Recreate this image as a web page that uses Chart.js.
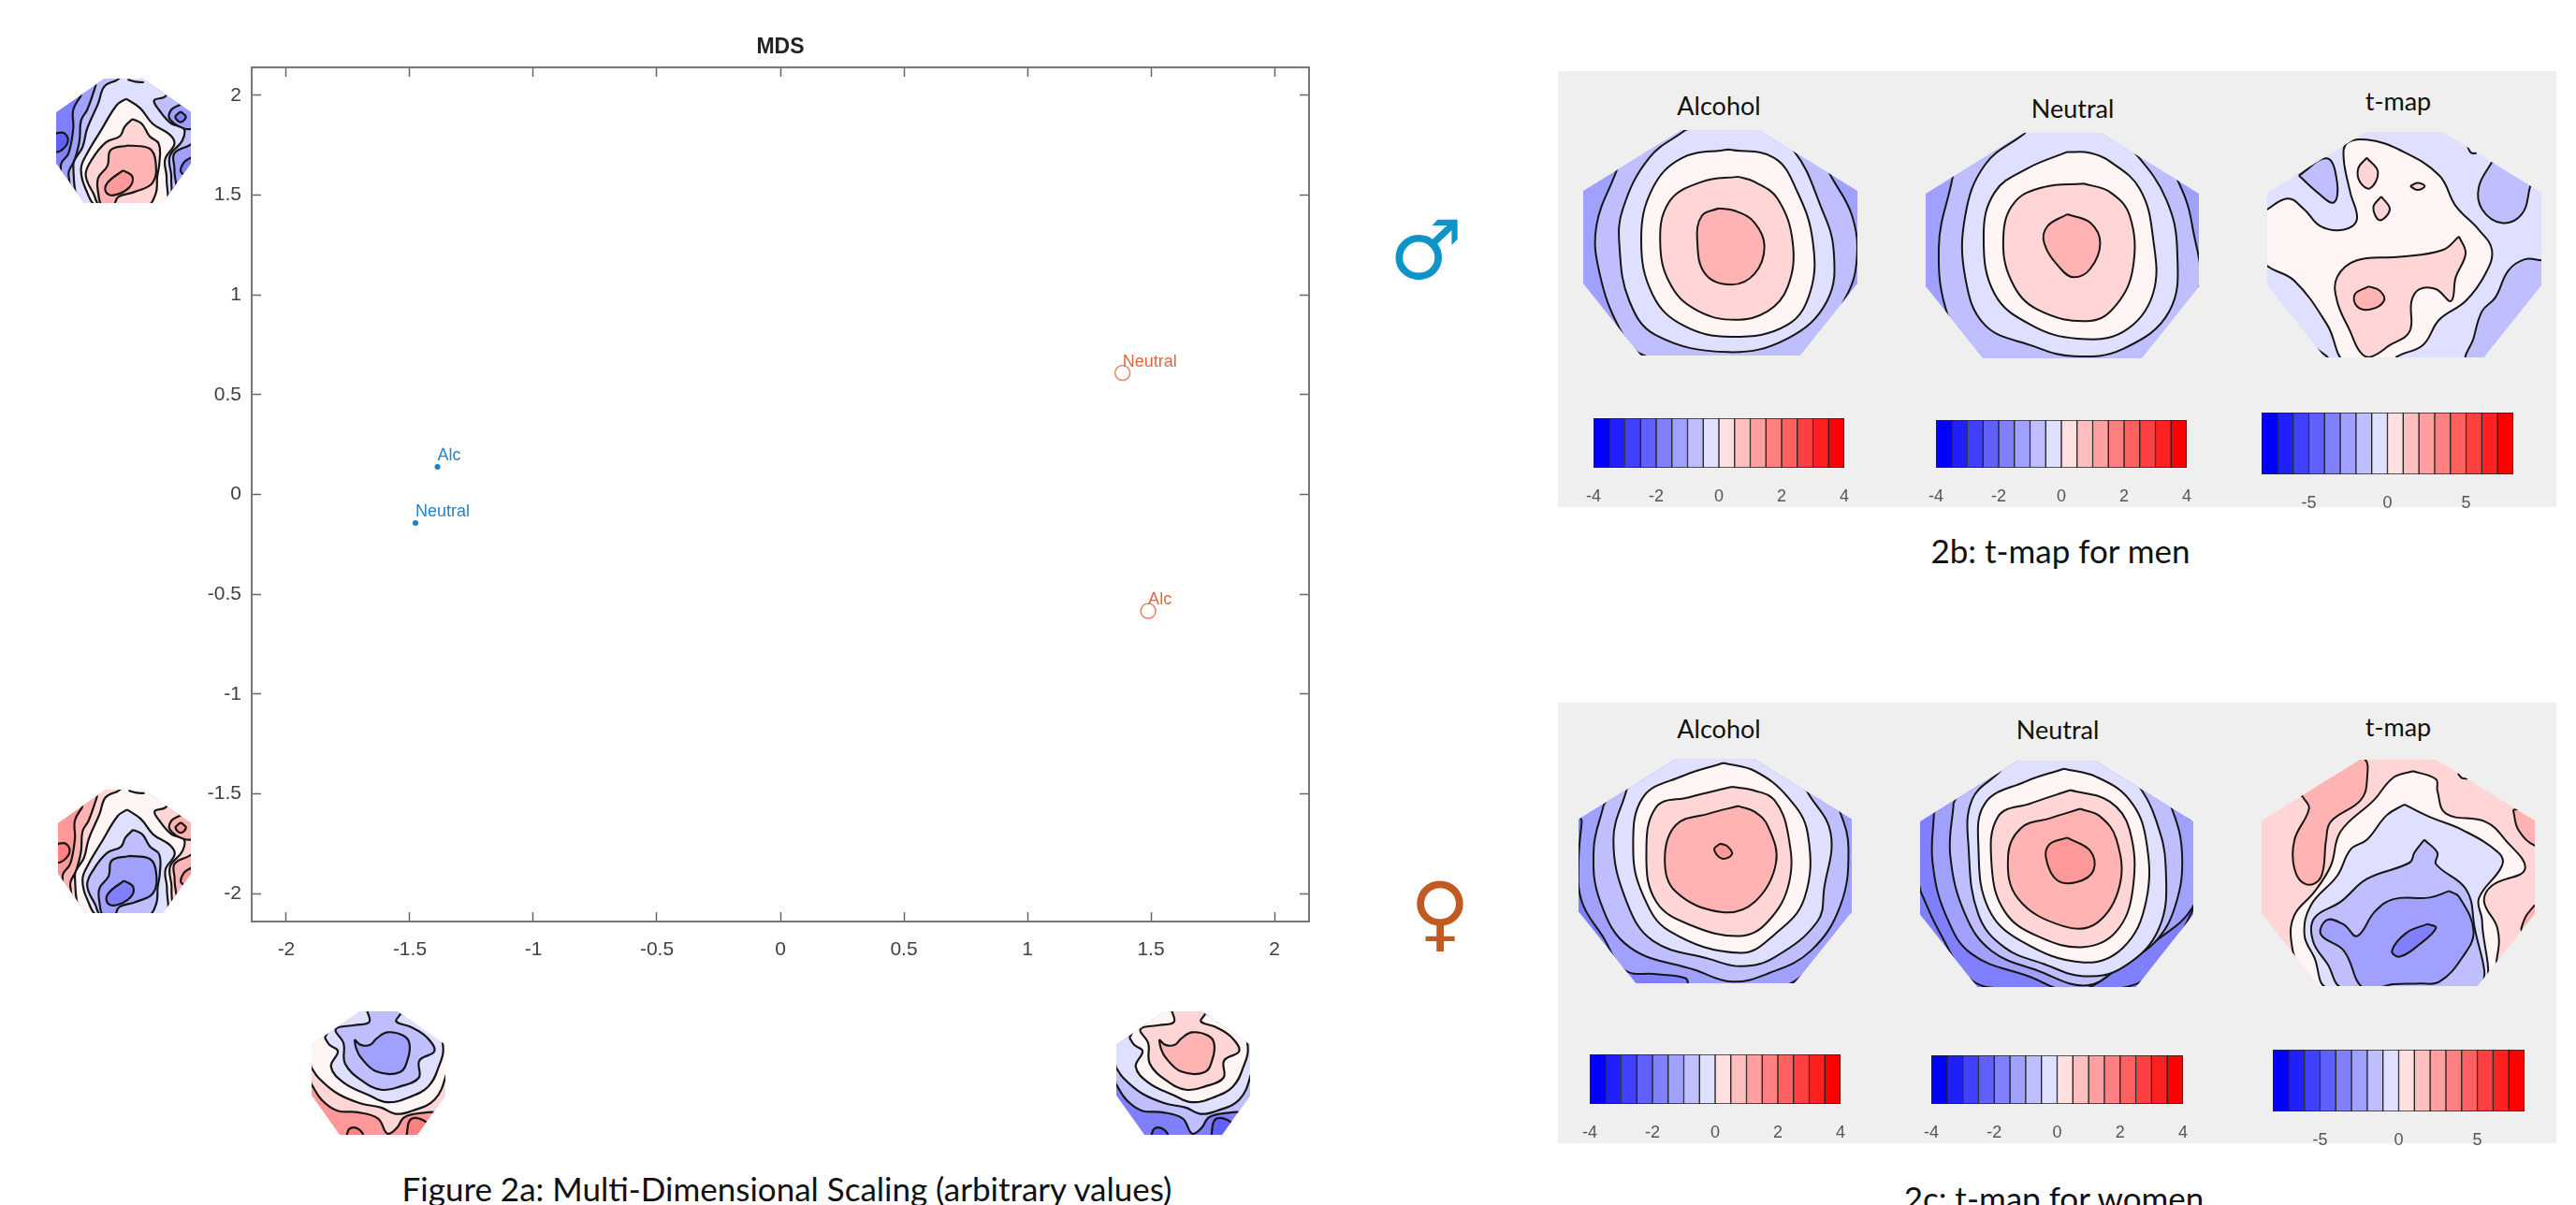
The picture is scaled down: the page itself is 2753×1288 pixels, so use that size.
<!DOCTYPE html>
<html>
<head>
<meta charset="utf-8">
<title>MDS and t-maps</title>
<script src="https://cdn.jsdelivr.net/npm/chart.js@4"></script>
<style>
    html, body { margin: 0; padding: 0; background: #fff; overflow: hidden; }
    #page { position: relative; width: 2753px; height: 1288px; overflow: hidden; }
    canvas { position: absolute; display: block; }
    .panel { position: absolute; left: 1665px; width: 1067px; background: #efefef; }
    .txt { position: absolute; transform: translate(-50%, -50%); white-space: nowrap; font-family: Lato, sans-serif; color: #111; }
    .sym { position: absolute; transform: translate(-50%, -50%); font-family: "DejaVu Sans", sans-serif; line-height: 1; }
</style>
</head>
<body>
<div id="page">
    <div class="panel" style="top:76px;height:466px"></div>
    <div class="panel" style="top:751px;height:471px"></div>
</div>
<script>
// MDS scatter values
const pointLabels = ['Alc', 'Neutral'];
const menX = [-1.388, -1.477];
const menY = [0.138, -0.143];
const womenX = [1.489, 1.385];
const womenY = [-0.584, 0.609];
const axisTicks = [-2, -1.5, -1, -0.5, 0, 0.5, 1, 1.5, 2];

// colorbar values
const barEdges4 = [-4, -3.5, -3, -2.5, -2, -1.5, -1, -0.5, 0, 0.5, 1, 1.5, 2, 2.5, 3, 3.5, 4];
const barEdges8 = [-8, -7, -6, -5, -4, -3, -2, -1, 0, 1, 2, 3, 4, 5, 6, 7, 8];
const barTicks4 = [-4, -2, 0, 2, 4];
const barTicks8 = [-5, 0, 5];
const barColors = ['#0000ff', '#2020ff', '#4040ff', '#6060ff', '#8080ff', '#a0a0ff', '#bfbfff', '#dfdfff',
    '#ffdfdf', '#ffbfbf', '#ff9f9f', '#ff8080', '#ff6060', '#ff4040', '#ff2020', '#ff0000'];

// contour shapes: [bin, outline]. bin indexes binColors, null is a bare line
const binColors = ['#6060ff', '#8080ff', '#a0a0ff', '#bfbfff', '#dfdfff', '#fff5f5', '#ffd5d5', '#ffb3b3', '#ff9999', '#ff8080'];

const topMapBase = 1;
const topMapLayers = [
    [0, [[30, 205], [55, 205], [68, 230], [50, 258], [25, 265], [20, 230]]],
    [2, [[110, 85], [85, 130], [85, 190], [70, 270], [45, 310], [70, 440], [480, 440], [480, 20], [100, 20]]],
    [3, [[155, 60], [130, 130], [110, 165], [105, 230], [90, 290], [70, 340], [110, 440], [405, 440], [410, 320], [410, 270], [470, 235], [480, 180], [470, 100], [380, 20], [170, 20]]],
    [4, [[225, 35], [185, 55], [165, 110], [130, 190], [115, 250], [85, 310], [125, 440], [385, 440], [400, 350], [395, 280], [435, 230], [440, 190], [400, 175], [360, 130], [345, 100], [380, 88], [390, 60], [340, 20], [250, 20]]],
    [null, [[260, 33], [285, 40], [312, 42]]],
    [2, [[430, 113], [400, 130], [395, 160], [440, 190], [475, 185], [475, 125]]],
    [1, [[430, 136], [413, 153], [430, 170], [447, 153]]],
    [1, [[465, 283], [440, 300], [432, 332], [470, 345]]],
    [5, [[255, 95], [225, 115], [175, 195], [130, 270], [110, 320], [125, 385], [165, 440], [375, 440], [385, 350], [380, 290], [410, 240], [395, 210], [340, 175], [300, 125]]],
    [6, [[275, 160], [250, 185], [235, 215], [190, 235], [145, 290], [125, 340], [150, 400], [175, 440], [320, 440], [350, 400], [355, 345], [362, 300], [360, 240], [330, 215], [305, 175]]],
    [7, [[260, 245], [205, 260], [195, 310], [165, 350], [165, 395], [178, 440], [212, 440], [230, 410], [280, 395], [340, 365], [350, 300], [330, 255]]],
    [8, [[245, 325], [195, 365], [190, 395], [215, 405], [265, 380], [275, 345]]]
];

const bottomMapBase = 1;
const bottomMapLayers = [
    [0, [[330, 430], [345, 372], [395, 382], [425, 430]]],
    [0, [[138, 430], [150, 402], [180, 405], [192, 430]]],
    [3, [[26, 258], [60, 310], [110, 345], [175, 350], [240, 370], [270, 418], [300, 400], [325, 365], [400, 350], [470, 340], [480, 100], [10, 100]]],
    [4, [[26, 205], [50, 240], [110, 290], [185, 322], [250, 335], [295, 355], [350, 345], [420, 310], [456, 235], [480, 100], [100, 20], [15, 100]]],
    [5, [[70, 112], [85, 135], [112, 155], [90, 205], [130, 255], [210, 295], [270, 318], [345, 300], [400, 268], [430, 215], [447, 135], [400, 20], [130, 20]]],
    [6, [[203, 20], [212, 62], [165, 72], [105, 85], [130, 130], [135, 195], [190, 250], [250, 278], [310, 268], [370, 240], [372, 185], [420, 155], [395, 110], [345, 78], [298, 60], [312, 35], [312, 20]]],
    [7, [[165, 118], [170, 145], [185, 175], [235, 220], [310, 222], [335, 180], [340, 130], [320, 105], [270, 95], [235, 115], [215, 135], [185, 135]]]
];

const menAlcBase = 2;
const menAlcLayers = [
    [3, [[110, 340], [80, 500], [85, 640], [115, 800], [150, 878], [250, 910], [395, 878], [458, 710], [475, 600], [468, 470], [435, 350], [380, 150], [150, 150]]],
    [4, [[215, 218], [160, 300], [120, 450], [115, 560], [130, 720], [170, 820], [280, 870], [370, 830], [430, 720], [440, 570], [420, 440], [380, 280], [330, 215], [270, 190]]],
    [5, [[280, 275], [210, 300], [165, 390], [148, 540], [165, 700], [210, 790], [285, 825], [370, 790], [405, 690], [408, 540], [385, 400], [350, 300]]],
    [6, [[295, 355], [240, 370], [190, 430], [177, 560], [195, 680], [235, 750], [290, 775], [340, 750], [370, 680], [378, 550], [355, 420], [320, 370]]],
    [7, [[265, 448], [240, 470], [233, 540], [245, 640], [285, 672], [320, 640], [335, 560], [320, 490], [290, 455]]]
];

const menNeuBase = 2;
const menNeuLayers = [
    [3, [[620, 365], [600, 560], [615, 770], [660, 900], [920, 900], [993, 700], [985, 500], [965, 375], [900, 150], [650, 150]]],
    [4, [[730, 228], [670, 320], [640, 470], [640, 650], [670, 790], [740, 850], [805, 882], [880, 860], [950, 750], [962, 570], [945, 420], [900, 290], [850, 200], [750, 190]]],
    [5, [[795, 282], [735, 330], [685, 400], [668, 530], [685, 700], [740, 790], [810, 830], [880, 810], [925, 700], [925, 530], [905, 390], [860, 310], [830, 285]]],
    [6, [[820, 375], [760, 385], [715, 430], [698, 530], [710, 660], [750, 745], [830, 778], [870, 730], [895, 620], [890, 470], [860, 400]]],
    [7, [[795, 465], [765, 500], [760, 550], [785, 625], [805, 650], [830, 625], [845, 550], [830, 490]]]
];

const menTBase = 4;
const menTLayers = [
    [3, [[1147, 350], [1190, 300], [1205, 370], [1200, 430], [1175, 400]]],
    [3, [[1440, 310], [1420, 385], [1425, 450], [1455, 490], [1485, 465], [1497, 390], [1500, 340]]],
    [3, [[1515, 600], [1490, 597], [1465, 630], [1445, 710], [1425, 750], [1412, 830], [1403, 895], [1540, 900], [1540, 600]]],
    [3, [[1145, 792], [1165, 845], [1192, 895], [1120, 895]]],
    [null, [[1403, 265], [1408, 283], [1417, 285]]],
    [5, [[1095, 455], [1130, 418], [1155, 450], [1180, 500], [1215, 510], [1235, 480], [1225, 400], [1215, 300], [1220, 255], [1250, 245], [1300, 275], [1360, 350], [1385, 440], [1420, 510], [1440, 570], [1430, 640], [1400, 720], [1360, 775], [1335, 850], [1295, 885], [1295, 905], [1220, 905], [1190, 790], [1140, 660], [1095, 610], [1075, 530]]],
    [6, [[1250, 298], [1237, 330], [1240, 370], [1255, 388], [1267, 340]]],
    [6, [[1272, 412], [1260, 445], [1270, 482], [1285, 450]]],
    [6, [[1316, 382], [1327, 372], [1338, 382], [1327, 393]]],
    [6, [[1390, 530], [1365, 570], [1300, 590], [1235, 600], [1205, 650], [1205, 720], [1225, 810], [1240, 870], [1255, 885], [1285, 850], [1315, 810], [1318, 720], [1330, 685], [1355, 685], [1378, 720], [1385, 650], [1400, 580]]],
    [7, [[1253, 677], [1232, 700], [1235, 735], [1255, 745], [1276, 720], [1270, 690]]]
];

const womenAlcBase = 1;
const womenAlcLayers = [
    [2, [[57, 392], [52, 520], [57, 640], [90, 750], [122, 850], [170, 862], [215, 875], [222, 905], [352, 905], [402, 848], [450, 730], [480, 600], [480, 300], [260, 100], [40, 300]]],
    [3, [[90, 345], [75, 480], [85, 640], [130, 780], [230, 850], [285, 885], [340, 860], [405, 790], [450, 650], [462, 480], [450, 370], [400, 150], [150, 150]]],
    [4, [[125, 297], [105, 450], [125, 640], [165, 760], [250, 815], [300, 838], [350, 810], [415, 700], [425, 600], [435, 430], [400, 305], [350, 130], [180, 130]]],
    [5, [[272, 215], [210, 255], [150, 320], [135, 480], [150, 620], [190, 730], [298, 797], [350, 740], [395, 630], [400, 430], [370, 320], [320, 240]]],
    [6, [[285, 288], [220, 320], [170, 350], [155, 500], [170, 640], [220, 710], [298, 745], [340, 700], [372, 580], [370, 430], [350, 330], [320, 300]]],
    [7, [[295, 347], [250, 370], [200, 405], [183, 510], [200, 610], [270, 672], [320, 640], [352, 520], [340, 410], [320, 365]]],
    [8, [[267, 462], [258, 480], [270, 508], [285, 495], [278, 470]]]
];

const womenNeuBase = 1;
const womenNeuLayers = [
    [1, [[572, 610], [600, 730], [650, 880], [715, 905], [830, 905], [885, 900], [918, 865], [987, 660], [1005, 450], [780, 120], [555, 400]]],
    [2, [[592, 372], [590, 520], [610, 680], [650, 800], [740, 870], [790, 910], [830, 900], [880, 830], [930, 760], [985, 660], [1010, 500], [955, 300], [850, 120], [650, 120]]],
    [3, [[622, 340], [617, 500], [640, 680], [680, 790], [750, 850], [825, 895], [880, 830], [930, 760], [960, 650], [970, 500], [955, 360], [900, 130], [680, 130]]],
    [4, [[693, 243], [650, 330], [645, 480], [660, 680], [700, 780], [760, 830], [820, 867], [880, 840], [935, 720], [945, 530], [930, 390], [905, 290], [860, 180], [720, 180]]],
    [5, [[790, 235], [730, 275], [670, 340], [660, 480], [675, 660], [725, 760], [820, 825], [880, 780], [915, 640], [915, 450], [890, 330], [840, 260]]],
    [6, [[800, 300], [740, 340], [690, 380], [680, 530], [700, 670], [750, 745], [820, 778], [870, 730], [895, 600], [890, 420], [860, 335]]],
    [7, [[815, 357], [770, 385], [725, 415], [705, 500], [720, 630], [790, 715], [840, 705], [875, 590], [870, 450], [845, 380]]],
    [8, [[795, 445], [768, 465], [763, 510], [780, 575], [810, 580], [835, 545], [830, 485]]]
];

const womenTBase = 6;
const womenTLayers = [
    [7, [[1153, 320], [1162, 355], [1140, 450], [1140, 540], [1158, 587], [1180, 565], [1188, 450], [1195, 395], [1240, 330], [1250, 270], [1243, 200], [1100, 200]]],
    [7, [[1472, 358], [1480, 420], [1505, 468], [1540, 468], [1540, 358]]],
    [7, [[1505, 650], [1490, 690], [1487, 735], [1540, 735], [1540, 650]]],
    [null, [[1388, 247], [1395, 262], [1405, 262]]],
    [5, [[1320, 240], [1290, 260], [1260, 330], [1210, 425], [1195, 530], [1170, 610], [1140, 680], [1135, 760], [1150, 860], [1170, 910], [1430, 910], [1448, 805], [1448, 720], [1428, 640], [1440, 590], [1490, 540], [1460, 450], [1430, 395], [1370, 370], [1357, 300], [1355, 265]]],
    [4, [[1307, 342], [1280, 375], [1250, 450], [1225, 480], [1205, 560], [1165, 650], [1155, 740], [1170, 810], [1192, 905], [1420, 905], [1425, 700], [1420, 630], [1455, 530], [1450, 490], [1395, 420], [1345, 380]]],
    [3, [[1337, 450], [1322, 490], [1315, 520], [1250, 570], [1210, 640], [1170, 690], [1168, 760], [1190, 830], [1215, 905], [1417, 905], [1412, 700], [1400, 600], [1355, 525], [1357, 490]]],
    [2, [[1375, 607], [1345, 627], [1290, 632], [1262, 670], [1235, 745], [1215, 710], [1190, 695], [1180, 740], [1215, 790], [1245, 905], [1290, 892], [1330, 890], [1360, 885], [1395, 810], [1412, 730], [1390, 625]]],
    [1, [[1342, 708], [1310, 735], [1288, 790], [1300, 808], [1330, 770], [1355, 720]]]
];

const page = document.getElementById('page');
const octagon = [[36, 0], [64, 0], [100, 27], [100, 68], [79, 100], [21, 100], [0, 68], [0, 27]];

function addCanvas(left, top, width, height) {
    const c = document.createElement('canvas');
    c.width = width;
    c.height = height;
    c.style.left = left + 'px';
    c.style.top = top + 'px';
    c.style.width = width + 'px';
    c.style.height = height + 'px';
    page.appendChild(c);
    return c.getContext('2d');
}

function addText(text, x, y, size, extra) {
    const d = document.createElement('div');
    d.className = 'txt';
    d.textContent = text;
    d.style.left = x + 'px';
    d.style.top = y + 'px';
    d.style.fontSize = size + 'px';
    if (extra) d.style.transform = extra;
    page.appendChild(d);
}

// MDS chart
const labelPlugin = {
    id: 'pointText',
    afterDatasetsDraw(chart) {
        const ctx = chart.ctx;
        ctx.save();
        ctx.font = '18px "Liberation Sans"';
        ctx.textBaseline = 'middle';
        chart.data.datasets.forEach((ds, i) => {
            ctx.fillStyle = ds.textColor;
            chart.getDatasetMeta(i).data.forEach((pt, j) => {
                ctx.fillText(pointLabels[j], pt.x, pt.y - 12);
            });
        });
        ctx.restore();
    }
};

function mainAxis(position, showLabels, size) {
    const isX = position === 'top' || position === 'bottom';
    return {
        type: 'linear',
        position: position,
        min: -2.14,
        max: 2.14,
        afterBuildTicks: s => { s.ticks = axisTicks.map(v => ({ value: v })); },
        afterFit: s => { if (isX) s.height = size; else s.width = size; },
        border: { color: '#777', width: 2 },
        grid: { drawOnChartArea: false, tickLength: -10, color: '#666', tickWidth: 1.5 },
        ticks: {
            display: showLabels,
            color: '#404040',
            font: { family: 'Liberation Sans', size: 21 },
            padding: isX ? 28 : 21,
            maxRotation: 0,
            autoSkip: false,
            callback: v => String(v)
        }
    };
}

new Chart(addCanvas(200, 0, 1300, 1040), {
    type: 'scatter',
    data: {
        datasets: [
            {
                data: menX.map((x, i) => ({ x: x, y: menY[i] })),
                pointRadius: 3,
                backgroundColor: '#1a7fc8',
                borderWidth: 0,
                textColor: '#2584c8'
            },
            {
                data: womenX.map((x, i) => ({ x: x, y: womenY[i] })),
                pointRadius: 8,
                backgroundColor: 'rgba(0,0,0,0)',
                borderColor: '#e8845c',
                borderWidth: 1.5,
                textColor: '#dc6a38'
            }
        ]
    },
    options: {
        responsive: false,
        animation: false,
        layout: { padding: { right: 101 } },
        plugins: {
            legend: { display: false },
            tooltip: { enabled: false },
            title: {
                display: true,
                text: 'MDS',
                fullSize: false,
                color: '#222',
                font: { family: 'Liberation Sans', size: 23, weight: 'bold', lineHeight: 1.2 },
                padding: { top: 37, bottom: 7.4 }
            }
        },
        scales: {
            x: mainAxis('bottom', true, 55),
            y: mainAxis('left', true, 69),
            x2: mainAxis('top', false, 0),
            y2: mainAxis('right', false, 0)
        }
    },
    plugins: [labelPlugin]
});

// scalp maps
const clipPlugin = {
    id: 'octagonClip',
    beforeDatasetsDraw(chart) {
        const a = chart.chartArea;
        const ctx = chart.ctx;
        ctx.save();
        ctx.beginPath();
        octagon.forEach(([u, v], i) => {
            const x = a.left + u / 100 * (a.right - a.left);
            const y = a.top + v / 100 * (a.bottom - a.top);
            if (i) ctx.lineTo(x, y); else ctx.moveTo(x, y);
        });
        ctx.closePath();
        ctx.clip();
        ctx.fillStyle = chart.options.plugins.octagonClip.base;
        ctx.fillRect(a.left, a.top, a.right - a.left, a.bottom - a.top);
    },
    afterDatasetsDraw(chart) {
        chart.ctx.restore();
    }
};

function drawMap(box, xr, yr, base, layers, flip, lineWidth) {
    const pick = b => binColors[flip ? binColors.length - 1 - b : b];
    new Chart(addCanvas(box[0], box[1], box[2], box[3]), {
        type: 'scatter',
        data: {
            datasets: layers.map(([bin, pts], i) => {
                const closed = bin === null ? pts : pts.concat([pts[0]]);
                return {
                    data: closed.map(p => ({ x: p[0], y: p[1] })),
                    showLine: true,
                    fill: bin === null ? false : 'shape',
                    backgroundColor: bin === null ? 'transparent' : pick(bin),
                    borderColor: '#151515',
                    borderWidth: lineWidth,
                    tension: 0.4,
                    capBezierPoints: false,
                    pointRadius: 0,
                    order: layers.length - i
                };
            })
        },
        options: {
            responsive: false,
            animation: false,
            layout: { padding: 0 },
            plugins: {
                legend: { display: false },
                tooltip: { enabled: false },
                octagonClip: { base: pick(base) }
            },
            scales: {
                x: { type: 'linear', display: false, min: xr[0], max: xr[1] },
                y: { type: 'linear', display: false, reverse: true, min: yr[0], max: yr[1] }
            }
        },
        plugins: [clipPlugin]
    });
}

drawMap([60, 84, 144, 133], [30, 463], [30, 430], topMapBase, topMapLayers, false, 2.2);
drawMap([62, 844, 142, 132], [30, 463], [30, 430], topMapBase, topMapLayers, true, 2.2);
drawMap([333, 1081, 143, 132], [28, 455], [28, 422], bottomMapBase, bottomMapLayers, true, 2.2);
drawMap([1193, 1081, 143, 132], [28, 455], [28, 422], bottomMapBase, bottomMapLayers, false, 2.2);

drawMap([1692, 139, 293, 241], [60, 476], [218, 880], menAlcBase, menAlcLayers, false, 2);
drawMap([2058, 142, 292, 241], [580, 995], [226, 888], menNeuBase, menNeuLayers, false, 2);
drawMap([2423, 141, 293, 241], [1099, 1515], [222, 886], menTBase, menTLayers, false, 2);
drawMap([1687, 811, 292, 240], [52, 467], [202, 890], womenAlcBase, womenAlcLayers, false, 2);
drawMap([2052, 813, 292, 242], [571, 987], [210, 900], womenNeuBase, womenNeuLayers, false, 2);
drawMap([2417, 812, 292, 242], [1090, 1505], [205, 898], womenTBase, womenTLayers, false, 2);

// colorbars
function drawBar(box, edges, tickVals) {
    new Chart(addCanvas(box[0] - 20, box[1] - 2, box[2] + 40, box[3] + 42), {
        type: 'bar',
        data: {
            labels: ['t'],
            datasets: barColors.map((col, i) => ({
                data: [[edges[i], edges[i + 1]]],
                backgroundColor: col,
                borderColor: '#222',
                borderWidth: 1,
                borderSkipped: false,
                grouped: false,
                barPercentage: 1,
                categoryPercentage: 1
            }))
        },
        options: {
            indexAxis: 'y',
            responsive: false,
            animation: false,
            layout: { padding: { left: 20, right: 20, top: 2 } },
            plugins: { legend: { display: false }, tooltip: { enabled: false } },
            scales: {
                x: {
                    type: 'linear',
                    min: edges[0],
                    max: edges[edges.length - 1],
                    afterBuildTicks: s => { s.ticks = tickVals.map(v => ({ value: v })); },
                    afterFit: s => { s.height = 40; },
                    border: { display: false },
                    grid: { display: false },
                    ticks: {
                        color: '#555',
                        font: { family: 'Liberation Sans', size: 18 },
                        padding: 12,
                        maxRotation: 0,
                        autoSkip: false,
                        callback: v => String(v)
                    }
                },
                y: { display: false }
            }
        }
    });
}

drawBar([1703, 447, 268, 53], barEdges4, barTicks4);
drawBar([2069, 449, 268, 51], barEdges4, barTicks4);
drawBar([2417, 441, 269, 66], barEdges8, barTicks8);
drawBar([1699, 1127, 268, 53], barEdges4, barTicks4);
drawBar([2064, 1128, 269, 52], barEdges4, barTicks4);
drawBar([2429, 1122, 269, 66], barEdges8, barTicks8);

// headings and captions
addText('Alcohol', 1837, 112, 27);
addText('Neutral', 2215, 115, 27);
addText('t-map', 2563, 107, 27);
addText('Alcohol', 1837, 778, 27);
addText('Neutral', 2199, 779, 27);
addText('t-map', 2563, 776, 27);
addText('2b: t-map for men', 2202, 588, 35);
addText('2c: t-map for women', 2195, 1280, 35);
addText('Figure 2a: Multi-Dimensional Scaling (arbitrary values)', 841, 1270, 35);

const male = document.createElement('div');
male.className = 'sym';
male.textContent = '\u2642';
male.style.cssText = 'left:1524px;top:268px;font-size:88px;color:#0f94c8';
page.appendChild(male);

const female = document.createElement('div');
female.className = 'sym';
female.textContent = '\u2640';
female.style.cssText = 'left:1539px;top:976px;font-size:88px;color:#c05a20';
page.appendChild(female);
</script>
</body>
</html>
